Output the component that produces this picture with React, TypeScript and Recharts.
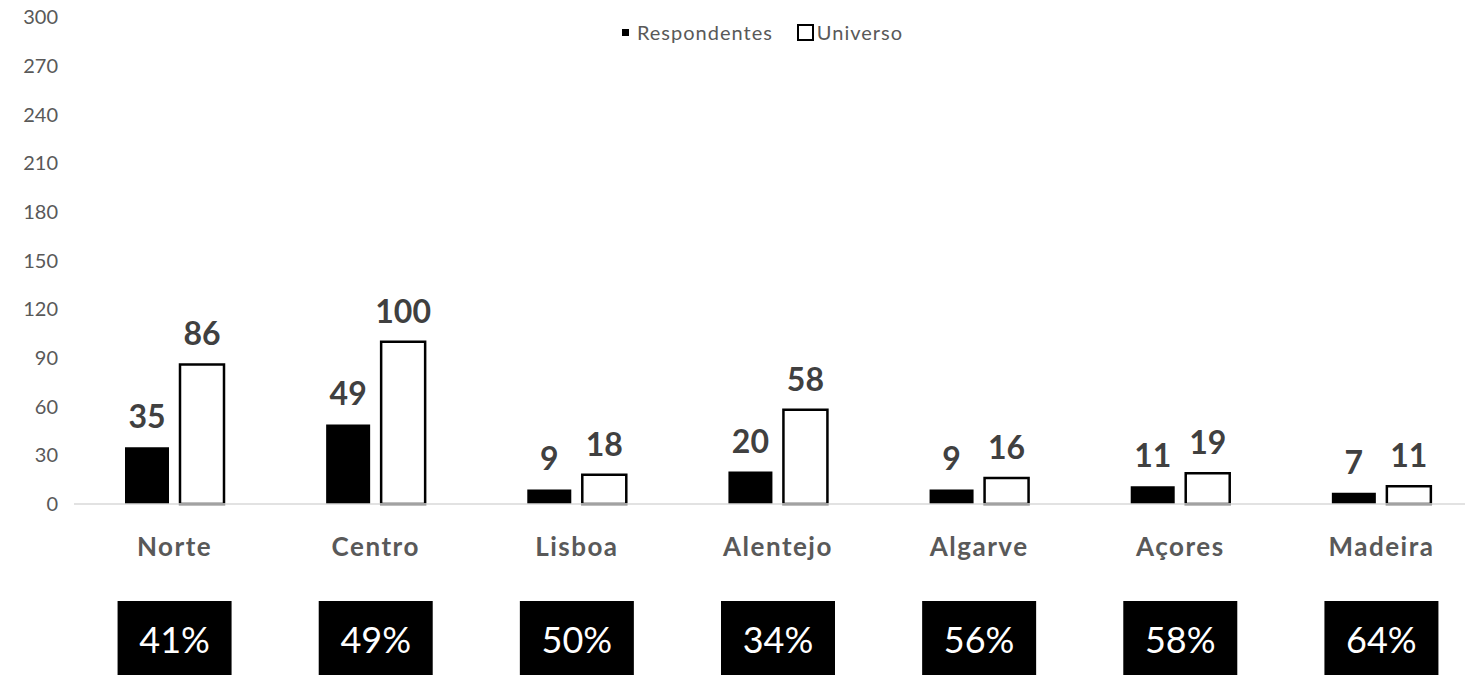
import { BarChart, Bar, XAxis, YAxis, LabelList } from 'recharts'

const categories = ['Norte', 'Centro', 'Lisboa', 'Alentejo', 'Algarve', 'Açores', 'Madeira']
const respondentes = [35, 49, 9, 20, 9, 11, 7]
const universo = [86, 100, 18, 58, 16, 19, 11]
const taxaResposta = ['41%', '49%', '50%', '34%', '56%', '58%', '64%']
const yTicks = [0, 30, 60, 90, 120, 150, 180, 210, 240, 270, 300]

const data = categories.map((name, i) => ({
  name,
  respondentes: respondentes[i],
  universo: universo[i],
}))

const FONT = 'Lato, "Open Sans", sans-serif'

function CategoryTick({ x, y, payload, index }: any) {
  return (
    <g>
      <text
        x={x}
        y={y + 40}
        textAnchor="middle"
        dominantBaseline="central"
        fontSize={26}
        fontWeight={700}
        letterSpacing={1.5}
        fill="#595959"
        fontFamily={FONT}
      >
        {payload.value}
      </text>
      <rect x={x - 57} y={y + 95} width={114} height={80} fill="#000" />
      <text
        x={x}
        y={y + 133}
        textAnchor="middle"
        dominantBaseline="central"
        fontSize={36}
        fill="#fff"
        fontFamily={FONT}
      >
        {taxaResposta[index]}
      </text>
    </g>
  )
}

function TopLegend() {
  return (
    <div
      style={{
        position: 'absolute',
        top: 20,
        left: 0,
        width: 1525,
        display: 'flex',
        alignItems: 'center',
        justifyContent: 'center',
        fontFamily: FONT,
        fontSize: 20,
        letterSpacing: 1,
        color: '#595959',
      }}
    >
      <span style={{ width: 7, height: 7, background: '#000', display: 'inline-block', marginRight: 8 }} />
      <span style={{ marginRight: 24 }}>Respondentes</span>
      <span
        style={{
          width: 13,
          height: 13,
          border: '2.5px solid #000',
          background: '#fff',
          display: 'inline-block',
          marginRight: 3,
        }}
      />
      <span>Universo</span>
    </div>
  )
}

export default function App() {
  return (
    <div
      style={{
        position: 'absolute',
        left: 0,
        top: 0,
        width: 1465,
        height: 675,
        overflow: 'hidden',
        background: '#fff',
      }}
    >
      <BarChart
        width={1482}
        height={675}
        data={data}
        margin={{ top: 17, right: 0, left: 0, bottom: 0 }}
        barSize={44}
        barGap={11}
      >
        <YAxis
          domain={[0, 300]}
          ticks={yTicks}
          width={74}
          axisLine={false}
          tickLine={false}
          tickSize={0}
          tickMargin={16}
          tick={{ fontSize: 20, fill: '#595959', fontFamily: FONT }}
          interval={0}
        />
        <XAxis
          dataKey="name"
          height={171}
          axisLine={{ stroke: '#d9d9d9', strokeWidth: 1.5 }}
          tickLine={false}
          tickSize={0}
          tick={<CategoryTick />}
          interval={0}
        />
        <Bar dataKey="respondentes" fill="#000" isAnimationActive={false}>
          <LabelList
            dataKey="respondentes"
            position="top"
            offset={19}
            fontSize={32}
            fontWeight={700}
            fill="#404040"
            fontFamily={FONT}
          />
        </Bar>
        <Bar dataKey="universo" fill="#fff" stroke="#000" strokeWidth={2.5} isAnimationActive={false}>
          <LabelList
            dataKey="universo"
            position="top"
            offset={19}
            fontSize={32}
            fontWeight={700}
            fill="#404040"
            fontFamily={FONT}
          />
        </Bar>
      </BarChart>
      <TopLegend />
    </div>
  )
}
